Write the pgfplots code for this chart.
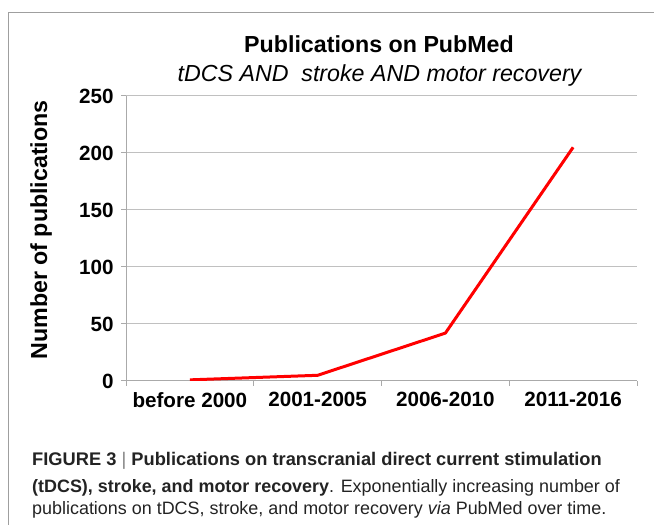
\documentclass[border=0pt]{standalone}
\usepackage{fontspec}
\setmainfont{Liberation Sans}
\usepackage{pgfplots}
\pgfplotsset{compat=1.18}

\definecolor{gridgray}{RGB}{192,192,192}
\definecolor{axisgray}{RGB}{170,170,170}
\definecolor{captxt}{RGB}{35,35,35}

\begin{document}
\begin{tikzpicture}[x=1bp,y=1bp]
\path[use as bounding box] (0,0) rectangle (654,525);
% frame round the figure
\draw[gray!75, line width=1bp] (8.5,0) -- (8.5,512.5) -- (654,512.5);

\node[anchor=base, font=\fontsize{23.3}{28}\selectfont\bfseries] at (379,472) {Publications on PubMed};
\node[anchor=base, font=\fontsize{23.3}{28}\selectfont\itshape] at (379.5,443.5) {tDCS AND\ \ stroke AND motor recovery};

\begin{axis}[
  at={(126bp,144bp)}, anchor=south west,
  width=511bp, height=285bp, scale only axis,
  xmin=-0.5, xmax=3.5, ymin=0, ymax=250,
  axis lines*=left,
  axis line style={draw=axisgray, line width=1bp, -},
  xtick={0,1,2,3},
  xticklabels={before 2000, 2001-2005, 2006-2010, 2011-2016},
  major x tick style={draw=none},
  minor xtick={-0.5,0.5,1.5,2.5,3.5},
  minor x tick style={draw=axisgray, line width=1bp},
  minor tick length=5bp,
  ytick={0,50,...,250},
  y tick style={draw=axisgray, line width=1bp},
  major tick length=5bp,
  tick align=outside,
  ymajorgrids,
  grid style={draw=gridgray, line width=1bp},
  /pgf/number format/assume math mode=true,
  tick label style={font=\fontsize{20.7}{21}\selectfont\bfseries},
  xticklabel style={yshift=-3bp},
  yticklabel style={xshift=-4bp},
  ylabel={Number of publications},
  ylabel style={at={(axis description cs:-0.166,0.53)}, anchor=center,
    font=\fontsize{23.3}{24}\selectfont\bfseries},
]
\addplot[red, line width=3bp, line join=round] coordinates {
  (0,1) (1,5) (2,42) (3,205)
};
\end{axis}

% caption
\node[anchor=base west, inner sep=0pt, font=\fontsize{18.35}{20}\selectfont, text=captxt] at (32,59)
  {\textbf{FIGURE 3} {\color{gray}|} \textbf{Publications on transcranial direct current stimulation}};
\node[anchor=base west, inner sep=0pt, font=\fontsize{18}{20}\selectfont, text=captxt] at (32,32)
  {\textbf{(tDCS), stroke, and motor recovery}. Exponentially increasing number of};
\node[anchor=base west, inner sep=0pt, font=\fontsize{18}{20}\selectfont, text=captxt] at (32,10)
  {publications on tDCS, stroke, and motor recovery \textit{via} PubMed over time.};
\end{tikzpicture}
\end{document}
